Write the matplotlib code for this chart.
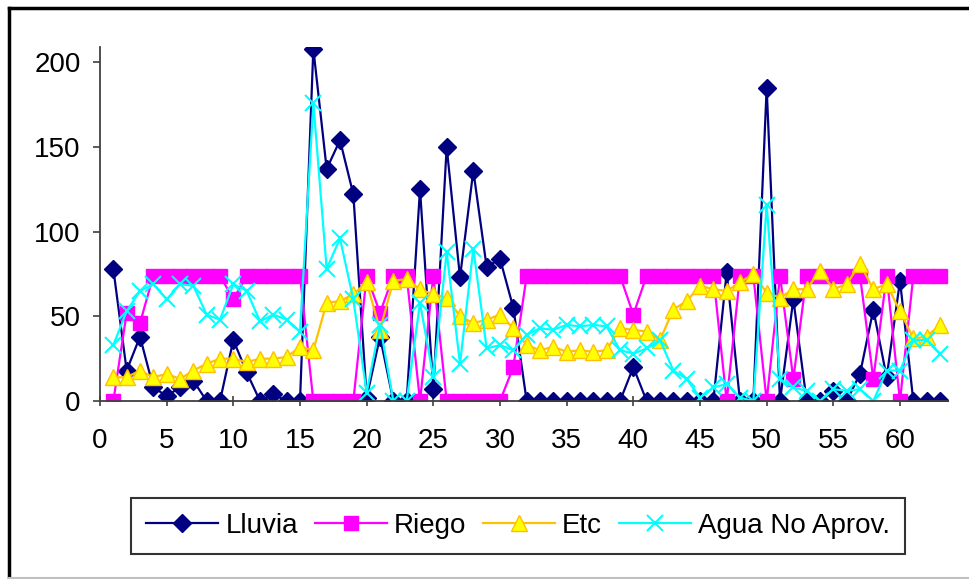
import matplotlib
matplotlib.use('Agg')
import matplotlib.pyplot as plt
from matplotlib.lines import Line2D

plt.rcParams['font.family'] = ['Liberation Sans', 'DejaVu Sans']

# Data (days 1..63)
dias = list(range(1, 64))
lluvia = [78, 18, 38, 8, 3, 8, 12, 0, 0, 36, 17, 0, 4, 0, 0,
          208, 137, 154, 122, 2, 38, 0, 0, 125, 7, 150, 73, 136, 79, 84,
          55, 0, 0, 0, 0, 0, 0, 0, 0, 20, 0, 0, 0, 0, 0,
          0, 76, 0, 0, 185, 0, 60, 0, 0, 6, 0, 16, 54, 14, 71,
          0, 0, 0]
riego = [0, 52, 46, 74, 74, 74, 74, 74, 74, 60, 74, 74, 74, 74, 74,
         0, 0, 0, 0, 74, 52, 74, 74, 0, 74, 0, 0, 0, 0, 0,
         20, 74, 74, 74, 74, 74, 74, 74, 74, 51, 74, 74, 74, 74, 74,
         74, 0, 74, 74, 0, 74, 13, 74, 74, 74, 74, 74, 13, 74, 0,
         74, 74, 74]
etc = [14, 14, 18, 14, 16, 13, 18, 22, 25, 25, 23, 25, 25, 26, 32,
       30, 58, 59, 63, 70, 42, 71, 72, 66, 63, 61, 50, 46, 48, 51,
       43, 33, 30, 32, 29, 30, 29, 30, 43, 42, 41, 36, 54, 59, 68,
       66, 65, 70, 75, 64, 61, 66, 66, 77, 66, 69, 81, 66, 69, 53,
       37, 38, 45]
agua_no_aprov = [33, 53, 65, 69, 60, 69, 68, 51, 48, 69, 65, 47, 51, 48, 41,
                 176, 78, 96, 60, 5, 45, 0, 0, 58, 14, 88, 22, 90, 31, 33,
                 30, 39, 43, 42, 45, 44, 45, 44, 30, 28, 31, 36, 18, 13, 2,
                 8, 10, 2, 0, 116, 13, 8, 6, 0, 7, 6, 7, 0, 18, 18,
                 36, 36, 28]

x_ticks = [0, 5, 10, 15, 20, 25, 30, 35, 40, 45, 50, 55, 60]
y_ticks = [0, 50, 100, 150, 200]

fig = plt.figure(figsize=(9.69, 5.79), dpi=100)
ax = fig.add_axes([100 / 969, 1 - 401 / 579, 848 / 969, 354 / 579])

ax.plot(dias, lluvia, color='#000080', lw=1.6, marker='D', markersize=9,
        markerfacecolor='#000080', markeredgecolor='#000080', label='Lluvia')
ax.plot(dias, riego, color='#FF00FF', lw=1.6, marker='s', markersize=10.5,
        markerfacecolor='#FF00FF', markeredgecolor='#FF00FF', label='Riego')
ax.plot(dias, etc, color='#FFC000', lw=1.6, marker='^', markersize=11,
        markerfacecolor='#FFFF00', markeredgecolor='#FFC000', label='Etc')
ax.plot(dias, agua_no_aprov, color='#00FFFF', lw=1.6, marker='x', markersize=11,
        markeredgewidth=1.5, label='Agua No Aprov.')

ax.set_xlim(0, 63.6)
ax.set_ylim(0, 209)
ax.set_xticks(x_ticks)
ax.set_yticks(y_ticks)

for side in ['top', 'right']:
    ax.spines[side].set_visible(False)
for side in ['left', 'bottom']:
    ax.spines[side].set_color('#404040')
    ax.spines[side].set_linewidth(1.3)

ax.tick_params(axis='y', direction='out', length=5, width=1.2, color='#404040',
               labelsize=20, pad=9)
ax.tick_params(axis='x', direction='inout', length=7, width=1.2, color='#404040',
               labelsize=20, pad=16)

fig.legend(loc='center', bbox_to_anchor=(518 / 969, 1 - 526 / 579), ncol=4,
           fontsize=20, frameon=True, fancybox=False, edgecolor='black',
           handlelength=2.6, handletextpad=0.25, columnspacing=0.6,
           borderpad=0.55, borderaxespad=0)
leg = fig.legends[0]
leg.get_frame().set_linewidth(1.5)

# outer chart border (top, left visible; bottom grey)
fig.add_artist(Line2D([9 / 969, 1], [1 - 8 / 579, 1 - 8 / 579], color='black', lw=2.5))
fig.add_artist(Line2D([9 / 969, 9 / 969], [0, 1 - 8 / 579], color='black', lw=2.5))
fig.add_artist(Line2D([9 / 969, 1], [1.5 / 579, 1.5 / 579], color='#c0c0c0', lw=1.5))

plt.savefig('out.png', dpi=100)
plt.close()
